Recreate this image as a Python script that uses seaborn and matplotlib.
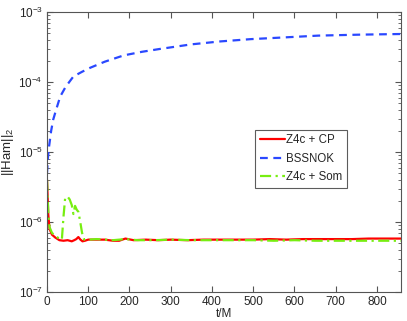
import numpy as np
import pandas as pd
import seaborn as sns
import matplotlib.pyplot as plt
from matplotlib.ticker import LogLocator, NullFormatter

# valores
t_cp = [0, 3, 6, 12, 20, 30, 40, 50, 60, 66, 71, 76, 81, 86, 92, 100, 120, 140, 160, 175,
        190, 210, 240, 270, 300, 340, 380, 420, 460, 500, 540, 580, 620, 660, 700, 740, 780, 820, 858]
h_cp = [4.0e-6, 1.3e-6, 8.0e-7, 6.6e-7, 6.0e-7, 5.5e-7, 5.4e-7, 5.5e-7, 5.3e-7, 5.5e-7,
        5.7e-7, 6.1e-7, 5.6e-7, 5.3e-7, 5.4e-7, 5.6e-7, 5.6e-7, 5.6e-7, 5.4e-7, 5.4e-7,
        5.8e-7, 5.5e-7, 5.6e-7, 5.5e-7, 5.6e-7, 5.5e-7, 5.6e-7, 5.6e-7, 5.6e-7, 5.6e-7,
        5.7e-7, 5.6e-7, 5.7e-7, 5.7e-7, 5.7e-7, 5.7e-7, 5.8e-7, 5.8e-7, 5.8e-7]

t_bssn = [0, 2, 5, 10, 15, 22, 32, 45, 64, 85, 105, 140, 186, 230, 271, 350, 420, 495,
          580, 658, 760, 858]
h_bssn = [5.0e-6, 8.0e-6, 1.2e-5, 2.0e-5, 2.9e-5, 4.0e-5, 6.2e-5, 8.5e-5, 1.2e-4, 1.4e-4,
          1.6e-4, 1.95e-4, 2.4e-4, 2.7e-4, 2.95e-4, 3.45e-4, 3.8e-4, 4.1e-4, 4.35e-4,
          4.6e-4, 4.75e-4, 4.85e-4]

t_som = [0, 3, 6, 12, 20, 30, 36, 40, 44, 50, 55, 60, 64, 68, 72, 76, 80, 85, 90, 100,
         120, 140, 160, 190, 220, 260, 300, 350, 400, 450, 500, 550, 600, 650, 700, 750, 800, 858]
h_som = [4.0e-6, 1.4e-6, 8.5e-7, 7.0e-7, 6.3e-7, 5.8e-7, 5.6e-7, 1.2e-6, 2.2e-6, 2.3e-6,
         2.1e-6, 1.75e-6, 1.3e-6, 1.7e-6, 1.5e-6, 1.4e-6, 1.05e-6, 7.0e-7, 5.6e-7, 5.6e-7,
         5.7e-7, 5.6e-7, 5.5e-7, 5.7e-7, 5.5e-7, 5.5e-7, 5.6e-7, 5.5e-7, 5.5e-7, 5.5e-7,
         5.5e-7, 5.4e-7, 5.5e-7, 5.4e-7, 5.4e-7, 5.4e-7, 5.4e-7, 5.4e-7]

etiquetas = ["Z4c + CP", "BSSNOK", "Z4c + Som"]
colores = ["#ff0000", "#2a48ff", "#77ee11"]
estilos = ["-", (0, (3.5, 2.5)), (0, (5, 2, 1, 2))]

sns.set_style("ticks")
plt.rcParams['font.family'] = ['Liberation Sans', 'DejaVu Sans']
plt.rcParams['mathtext.fontset'] = 'custom'
plt.rcParams['mathtext.rm'] = 'Liberation Sans'
plt.rcParams['mathtext.it'] = 'Liberation Sans'

fig = plt.figure(figsize=(4.07, 3.21), dpi=100)
ax = fig.add_axes([0.1155, 0.0903, 0.8695, 0.8723])

series = [(t_cp, h_cp), (t_bssn, h_bssn), (t_som, h_som)]
for (t, h), lab, c, ls in zip(series, etiquetas, colores, estilos):
    df = pd.DataFrame({"t": t, "h": h})
    sns.lineplot(data=df, x="t", y="h", ax=ax, color=c, linestyle=ls, lw=1.6, label=lab)

ax.set_yscale("log")
ax.set_xlim(0, 858)
ax.set_ylim(1e-7, 1e-3)
ax.set_xticks([0, 100, 200, 300, 400, 500, 600, 700, 800])
ax.yaxis.set_minor_locator(LogLocator(base=10, subs=np.arange(2, 10)))
ax.yaxis.set_minor_formatter(NullFormatter())
ax.tick_params(which="both", direction="in", top=True, right=True, labelsize=8.5,
               color="#555555", pad=3)
ax.tick_params(which="major", length=4)
ax.tick_params(which="minor", length=2)
for s in ax.spines.values():
    s.set_color("#555555")
    s.set_linewidth(0.8)

ax.set_xlabel("t/M", fontsize=8.5, labelpad=0)
ax.set_ylabel("||Ham||$_2$", fontsize=9.5, labelpad=2)

leg = ax.legend(loc="upper left", bbox_to_anchor=(0.588, 0.58), fontsize=8.3,
                frameon=True, fancybox=False, handlelength=2.2, handletextpad=0.1,
                borderpad=0.4, labelspacing=0.55, borderaxespad=0)
leg.get_frame().set_edgecolor("#333333")
leg.get_frame().set_linewidth(0.8)

fig.savefig("out.png", dpi=100)
